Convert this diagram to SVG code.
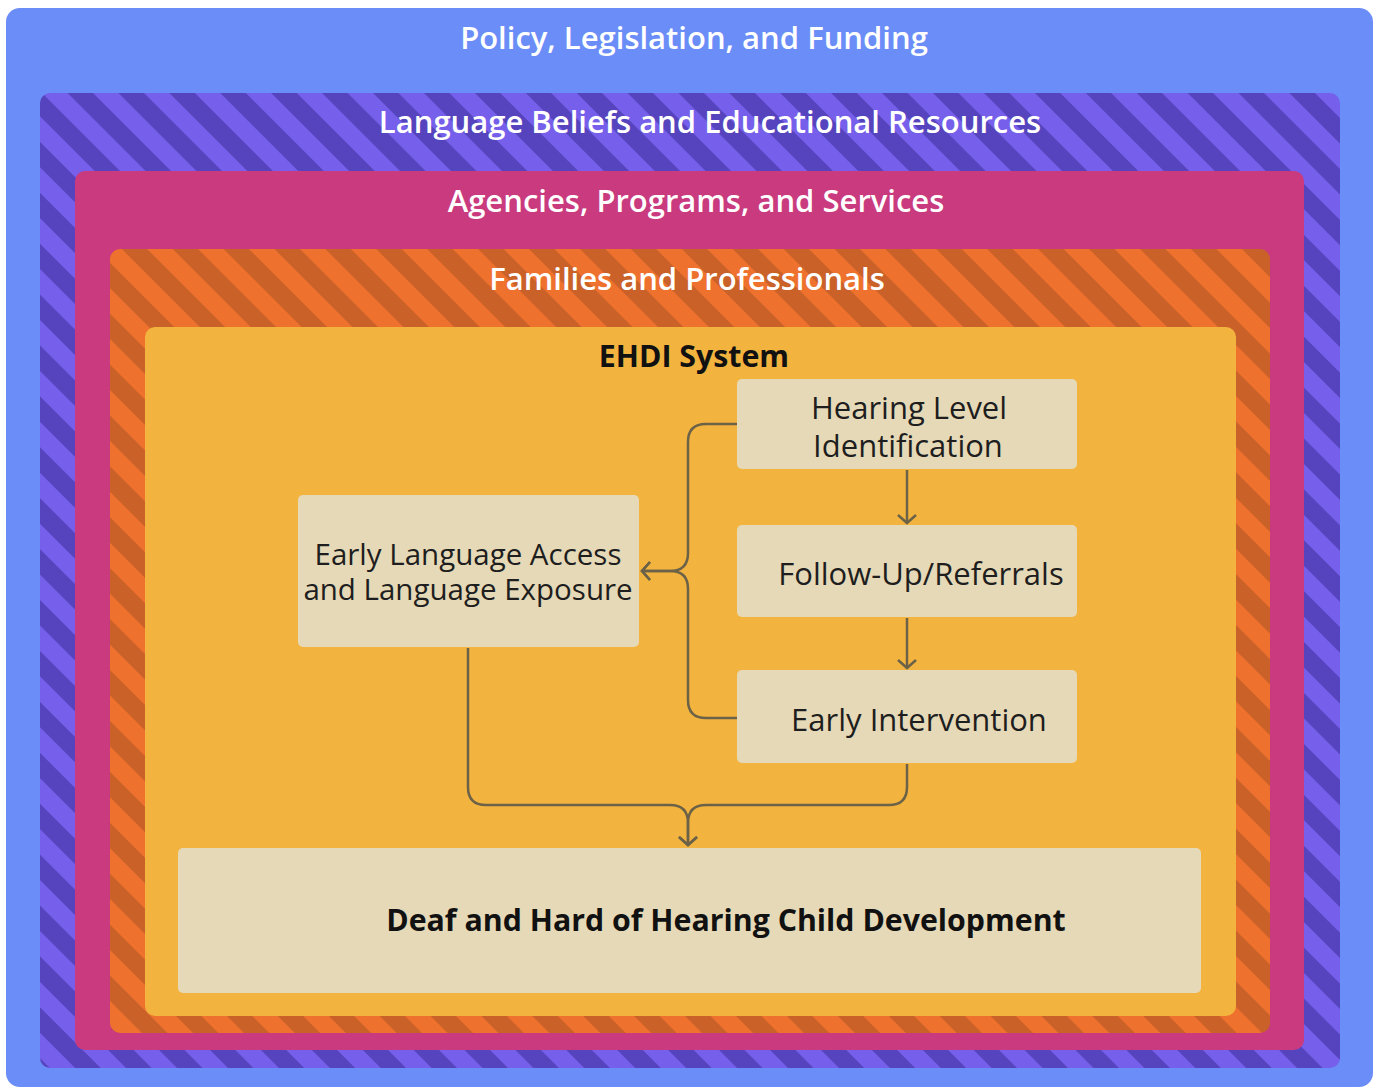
<svg xmlns="http://www.w3.org/2000/svg" width="1378" height="1088" viewBox="0 0 1378 1088">
<defs>
<pattern id="purpleStripes" patternUnits="userSpaceOnUse" width="36" height="36" patternTransform="rotate(45)">
<rect width="36" height="36" fill="#765FEA"/>
<rect width="36" height="18" fill="#5644BE"/>
</pattern>
<pattern id="orangeStripes" patternUnits="userSpaceOnUse" width="36" height="36" patternTransform="rotate(45)">
<rect width="36" height="36" fill="#EE712E"/>
<rect width="36" height="18" fill="#CA6128"/>
</pattern>
<marker id="chev" markerUnits="userSpaceOnUse" markerWidth="22" markerHeight="22" refX="11" refY="11" orient="auto" viewBox="0 0 22 22">
<path d="M3,2 L11,11 L3,20" fill="none" stroke="#6B6247" stroke-width="2.5"/>
</marker>
<style>
.lt{font-family:"Open Sans","Noto Sans",sans-serif;font-weight:600;font-size:31px;fill:#ffffff;text-anchor:middle}
.bx{fill:#E6D9B7}
.nt{font-family:"Open Sans","Noto Sans",sans-serif;font-size:31px;fill:#1E1E1E;text-anchor:middle}
.ns{font-size:29.5px}
.bt{font-family:"Open Sans","Noto Sans",sans-serif;font-size:30.3px;font-weight:700;fill:#111111;text-anchor:middle}
.cn{fill:none;stroke:#6B6247;stroke-width:2.5}
</style>
</defs>
<g id="layer-policy">
<rect x="6" y="8" width="1367" height="1079" rx="14" fill="#6B8DF7"/>
<text class="lt" x="694" y="49">Policy, Legislation, and Funding</text>
</g>
<g id="layer-language">
<rect x="40" y="93" width="1300" height="975" rx="10" fill="url(#purpleStripes)"/>
<text class="lt" x="710" y="133">Language Beliefs and Educational Resources</text>
</g>
<g id="layer-agencies">
<rect x="75" y="171" width="1229" height="879" rx="10" fill="#C93A7E"/>
<text class="lt" x="696" y="212">Agencies, Programs, and Services</text>
</g>
<g id="layer-families">
<rect x="110" y="249" width="1160" height="784" rx="10" fill="url(#orangeStripes)"/>
<text class="lt" x="687" y="290">Families and Professionals</text>
</g>
<g id="layer-ehdi">
<rect x="145" y="327" width="1091" height="689" rx="10" fill="#F3B33F"/>
<text class="bt" x="694" y="367">EHDI System</text>
</g>
<g id="node-hli">
<rect class="bx" x="737" y="379" width="340" height="90" rx="5"/>
<text class="nt" x="909" y="419">Hearing Level</text>
<text class="nt" x="908" y="457">Identification</text>
</g>
<g id="node-fur">
<rect class="bx" x="737" y="525" width="340" height="92" rx="5"/>
<text class="nt" x="921" y="585">Follow-Up/Referrals</text>
</g>
<g id="node-ei">
<rect class="bx" x="737" y="670" width="340" height="93" rx="5"/>
<text class="nt" x="919" y="731">Early Intervention</text>
</g>
<g id="node-ela">
<rect class="bx" x="298" y="495" width="341" height="152" rx="5"/>
<text class="nt ns" x="468" y="565">Early Language Access</text>
<text class="nt ns" x="468" y="600">and Language Exposure</text>
</g>
<g id="node-dhh">
<rect class="bx" x="178" y="848" width="1023" height="145" rx="5"/>
<text class="bt" x="726" y="931">Deaf and Hard of Hearing Child Development</text>
</g>
<g id="connectors">
<path class="cn" d="M907,470 L907,523" marker-end="url(#chev)"/>
<path class="cn" d="M907,618 L907,668" marker-end="url(#chev)"/>
<path class="cn" d="M737,424 L706,424 Q688,424 688,442 L688,553 Q688,571 670,571 L642,571" marker-end="url(#chev)"/>
<path class="cn" d="M737,718 L706,718 Q688,718 688,700 L688,589 Q688,571 670,571 L642,571" marker-end="url(#chev)"/>
<path class="cn" d="M468,648 L468,787 Q468,805 486,805 L670,805 Q688,805 688,823 L688,845" marker-end="url(#chev)"/>
<path class="cn" d="M907,764 L907,787 Q907,805 889,805 L706,805 Q688,805 688,823 L688,845" marker-end="url(#chev)"/>
</g>
</svg>
